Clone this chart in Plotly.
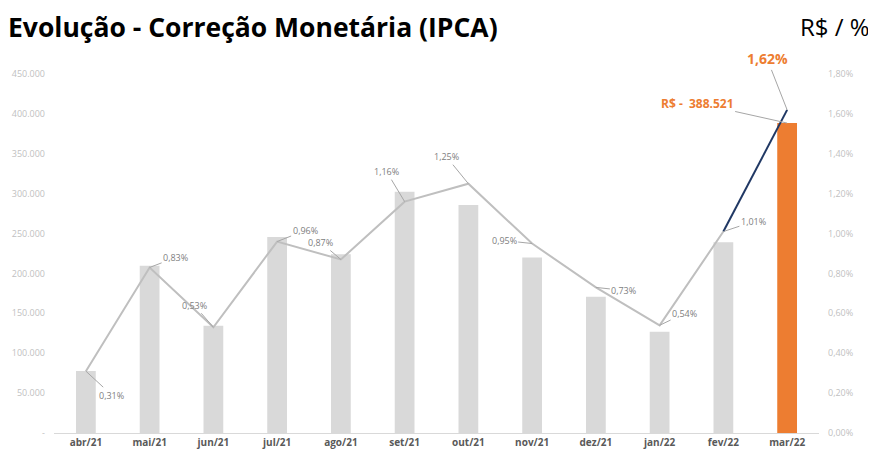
import plotly.graph_objects as go

months = ["abr/21", "mai/21", "jun/21", "jul/21", "ago/21", "set/21",
          "out/21", "nov/21", "dez/21", "jan/22", "fev/22", "mar/22"]
valores = [77700, 209700, 134500, 245700, 224000, 302500,
           285800, 220000, 170800, 127000, 239000, 388521]
ipca = [0.31, 0.83, 0.53, 0.96, 0.87, 1.16, 1.25, 0.95, 0.73, 0.54, 1.01, 1.62]

left_ticks = [0, 50000, 100000, 150000, 200000, 250000, 300000, 350000, 400000, 450000]
left_text = ["-", "50.000", "100.000", "150.000", "200.000", "250.000",
             "300.000", "350.000", "400.000", "450.000"]
right_ticks = [0, 0.2, 0.4, 0.6, 0.8, 1.0, 1.2, 1.4, 1.6, 1.8]
right_text = ["0,00%", "0,20%", "0,40%", "0,60%", "0,80%", "1,00%",
              "1,20%", "1,40%", "1,60%", "1,80%"]

# label offsets (pixels) for the IPCA data labels
label_ax = [26, 26, -19, 28, -20, -18, -22, -28, 28, 25, 30]
label_ay = [24, -10, -22, -11, -17, -30, -27, -3, 3, -12, -10]

GRAY_BAR = "#d9d9d9"
ORANGE = "#ed7d31"
bar_colors = [GRAY_BAR] * (len(months) - 1) + [ORANGE]

# page has an 8px body margin, so the figure is 8px smaller and offset
W, H = 868, 444
ML, MR, MT, MB = 46, 57, 66, 19
PW, PH = W - ML - MR, H - MT - MB

fig = go.Figure()
fig.add_trace(go.Bar(x=months, y=valores, marker_color=bar_colors,
                     marker_line_width=0, width=0.31, yaxis="y",
                     hoverinfo="skip"))
fig.add_trace(go.Scatter(x=months[:-1], y=ipca[:-1], mode="lines",
                         line=dict(color="#bfbfbf", width=2), yaxis="y2",
                         hoverinfo="skip"))
fig.add_trace(go.Scatter(x=months[-2:], y=ipca[-2:], mode="lines",
                         line=dict(color="#203864", width=2), yaxis="y2",
                         hoverinfo="skip"))

annotations = []
for i in range(len(months) - 1):
    annotations.append(dict(
        x=months[i], y=ipca[i], xref="x", yref="y2",
        text=f"{ipca[i]:.2f}%".replace(".", ","),
        showarrow=True, arrowhead=0, arrowwidth=1, arrowcolor="#a6a6a6",
        ax=label_ax[i], ay=label_ay[i], standoff=0,
        font=dict(family="Open Sans", size=9, color="#808080")))
annotations.append(dict(
    x=months[-1], y=ipca[-1], xref="x", yref="y2",
    text=f"<b>{ipca[-1]:.2f}%</b>".replace(".", ","),
    showarrow=True, arrowhead=0, arrowwidth=1, arrowcolor="#a6a6a6",
    ax=-20, ay=-51, standoff=0,
    font=dict(family="Open Sans", size=14, color=ORANGE)))
annotations.append(dict(
    x=months[-1], y=valores[-1], xref="x", yref="y",
    text="<b>R$ -  " + f"{valores[-1]:,}".replace(",", ".") + "</b>",
    showarrow=True, arrowhead=0, arrowwidth=1, arrowcolor="#a6a6a6",
    ax=-90, ay=-20, standoff=0,
    font=dict(family="Open Sans", size=12, color=ORANGE)))
annotations.append(dict(
    x=1 + (MR - 4) / PW, y=1 + (MT - 18) / PH, xref="paper", yref="paper",
    xanchor="right", yanchor="middle",
    text="R$ / %", showarrow=False,
    font=dict(family="Open Sans", size=24, color="#000000")))

fig.update_layout(
    width=W, height=H,
    margin=dict(l=ML, r=MR, t=MT, b=MB, autoexpand=False),
    paper_bgcolor="white", plot_bgcolor="white",
    showlegend=False,
    font=dict(family="Open Sans"),
    title=dict(text="<b>Evolução - Correção Monetária (IPCA)</b>",
               xref="container", yref="container",
               x=0, xanchor="left", y=1 - 20 / H, yanchor="middle",
               font=dict(family="Open Sans", size=26.5, color="#000000")),
    xaxis=dict(showgrid=False, showline=True, linecolor="#d9d9d9", linewidth=1,
               automargin=False,
               tickfont=dict(family="Open Sans", size=10, color="#595959"),
               tickprefix="<b>", ticksuffix="</b>", ticks=""),
    yaxis=dict(range=[0, 450000], tickvals=left_ticks, ticktext=left_text,
               showgrid=False, zeroline=False, showline=False, automargin=False,
               ticklabelstandoff=8,
               tickfont=dict(family="Open Sans", size=9, color="#bfbfbf")),
    yaxis2=dict(range=[0, 1.8], tickvals=right_ticks, ticktext=right_text,
                overlaying="y", side="right", showgrid=False, zeroline=False,
                showline=False, automargin=False, ticklabelstandoff=8,
                tickfont=dict(family="Open Sans", size=9, color="#bfbfbf")),
    annotations=annotations,
)

fig.write_html("out.html")
